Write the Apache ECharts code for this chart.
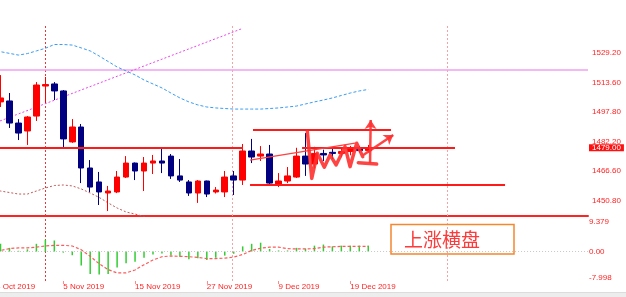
<!DOCTYPE html>
<html><head><meta charset="utf-8">
<script src="https://cdn.jsdelivr.net/npm/echarts@6/dist/echarts.min.js"></script>
<style>html,body{margin:0;padding:0;background:#fff;overflow:hidden}#c{width:626px;height:297px}</style>
</head><body><div id="c"></div>
<script>
// ---- data ----
const dates = ['24 Oct 2019','25 Oct 2019','28 Oct 2019','29 Oct 2019','30 Oct 2019','31 Oct 2019','1 Nov 2019','4 Nov 2019','5 Nov 2019','6 Nov 2019','7 Nov 2019','8 Nov 2019','11 Nov 2019','12 Nov 2019','13 Nov 2019','14 Nov 2019','15 Nov 2019','18 Nov 2019','19 Nov 2019','20 Nov 2019','21 Nov 2019','22 Nov 2019','25 Nov 2019','26 Nov 2019','27 Nov 2019','28 Nov 2019','29 Nov 2019','2 Dec 2019','3 Dec 2019','4 Dec 2019','5 Dec 2019','6 Dec 2019','9 Dec 2019','10 Dec 2019','11 Dec 2019','12 Dec 2019','13 Dec 2019','16 Dec 2019','17 Dec 2019','18 Dec 2019','19 Dec 2019','20 Dec 2019','23 Dec 2019'];
const futureSlots = 24;
const openP  = [1492.0,1503.3,1503.8,1492.1,1487.9,1495.8,1511.7,1512.8,1509.1,1482.1,1490.0,1468.3,1460.9,1455.05,1455.6,1463.5,1470.9,1466.7,1470.9,1472.0,1474.6,1464.1,1460.9,1455.05,1461.4,1455.6,1455.6,1464.1,1461.9,1477.3,1474.6,1475.7,1459.8,1461.4,1463.5,1474.6,1470.4,1476.0,1476.6,1476.0,1477.0,1478.9,1477.5];
const closeP = [1503.0,1505.4,1492.1,1486.8,1495.3,1512.25,1512.5,1509.1,1483.7,1490.0,1468.3,1458.2,1455.6,1456.1,1463.5,1470.9,1466.7,1470.9,1472.0,1470.9,1464.1,1461.9,1455.05,1461.4,1454.5,1456.6,1463.5,1461.9,1477.3,1474.1,1475.7,1460.3,1461.4,1464.1,1474.6,1470.4,1476.0,1475.2,1476.0,1477.0,1478.5,1477.5,1479.0];
const lowP   = [1490.0,1500.6,1489.5,1483.1,1480.5,1493.2,1502.7,1504.3,1479.4,1481.6,1460.3,1455.6,1448.7,1445.5,1455.0,1463.0,1461.9,1456.1,1465.1,1465.6,1462.5,1460.9,1453.5,1449.8,1452.9,1454.8,1452.9,1454.0,1459.3,1470.9,1472.0,1459.3,1458.2,1460.3,1463.0,1464.1,1468.0,1472.0,1473.0,1474.0,1475.0,1476.5,1476.5];
const highP  = [1506.0,1517.5,1508.0,1494.2,1495.8,1513.8,1516.5,1513.8,1509.6,1494.2,1491.6,1472.5,1466.2,1458.8,1466.7,1474.6,1471.2,1474.1,1475.2,1478.35,1475.7,1473.05,1461.9,1461.9,1461.6,1458.2,1466.7,1466.7,1481.0,1483.7,1479.9,1480.5,1465.6,1468.8,1479.0,1486.8,1479.5,1478.0,1478.5,1479.0,1480.0,1480.0,1480.5];
const upperBand = [1530.3,1529.9,1529.0,1528.1,1528.9,1530.3,1531.7,1533.7,1533.7,1533.4,1531.9,1530.3,1527.6,1524.7,1521.8,1519.7,1517.6,1514.9,1512.8,1510.7,1508.0,1505.4,1503.3,1501.7,1500.6,1500.1,1499.8,1499.5,1499.5,1499.5,1499.5,1499.8,1500.1,1500.6,1501.1,1502.2,1503.3,1504.3,1505.4,1506.7,1508.0,1509.1,1509.9];
const lowerBand = [1456.9,1456.1,1455.3,1454.5,1454.5,1456.1,1457.7,1459.0,1459.3,1458.8,1457.2,1455.05,1452.7,1449.8,1447.1,1445.0,1443.9,1442.6,1441.3];
const histo  = [1.5,2.1,1.0,0.2,0.6,2.1,3.2,3.0,-0.3,-1.0,-3.8,-6.1,-6.2,-6.1,-4.3,-3.2,-2.8,-1.7,-0.8,-0.5,-1.0,-1.4,-2.1,-1.8,-2.3,-1.7,-1.1,-0.6,1.4,2.1,2.4,0.7,0.3,0.3,1.0,0.8,1.6,1.9,1.4,1.6,1.6,1.6,1.6];
const signal = [0.2,0.3,0.8,1.0,1.0,1.2,1.5,1.7,1.7,1.5,0.5,-1.3,-3.3,-4.9,-5.8,-5.8,-5.0,-3.6,-2.3,-1.4,-1.2,-1.3,-1.4,-1.6,-1.9,-1.9,-1.8,-1.5,-0.8,0.3,0.9,1.2,1.2,0.8,0.7,0.7,0.8,1.2,1.3,1.4,1.4,1.4,1.4];
const mainTicks = [1529.2,1513.6,1497.8,1482.2,1466.6,1450.8];
const mainMin = 1442.87, mainMax = 1543.5;
const lowerTickValues = [9.379, 0, -7.998];
const lowerTickLabels = ['9.379','0.00','-7.998'];
const lastPrice = 1479.0;
// drawn objects, in (bar index, price)
const pinkLevel = 1520.5;
const trendLine = [[0.94,1493.2],[27.81,1541.9]];
const redLevels = [
  [[-0.5,1479.0],[28.04,1479.0]],
  [[34.62,1479.0],[51.67,1479.0]],
  [[29.15,1488.7],[44.54,1488.7]],
  [[28.82,1459.55],[57.25,1459.55]]
];
const thinSlant = [[28.82,1472.5],[40.52,1481.5]];
const zigzag = [[35.21,1487.5],[35.70,1462.8],[36.32,1476.1],[37.10,1468.7],[37.74,1475.2],[38.41,1469.9],[39.41,1479.6],[39.97,1469.0],[40.71,1481.4],[41.38,1474.3]];
const arrowDiag = [[41.45,1475.2],[44.79,1485.8]];
const arrowUp = [[42.20,1470.8],[42.27,1493.7]];
const arrowBase = [[40.89,1471.1],[42.94,1470.4]];
const separators = [5.96, 26.81, 50.78];
const sepColors = ['#e23a3a','#f3a3a3','#f3a3a3'];
const noteText = '上涨横盘';

// ---- chart ----
const categories = dates.concat(new Array(futureSlots).fill(''));
const N = categories.length;
const red = '#ff2424';
const font = 'Liberation Sans';
const labelInterval = (i, v) => v !== '' && i % 8 === 0;

const sepSeries = [];
separators.forEach((s, k) => {
  sepSeries.push({type:'lines', coordinateSystem:'cartesian2d', xAxisIndex:2, yAxisIndex:0, z:3, silent:true,
    lineStyle:{color:sepColors[k], width:1, type:[2,2], opacity:1}, data:[{coords:[[s,mainMin],[s,mainMax]]}]});
  sepSeries.push({type:'lines', coordinateSystem:'cartesian2d', xAxisIndex:3, yAxisIndex:1, z:3, silent:true,
    lineStyle:{color:sepColors[k], width:1, type:[2,2], opacity:1}, data:[{coords:[[s,lowerTickValues[2]],[s,lowerTickValues[0]]]}]});
});

const chart = echarts.init(document.getElementById('c'));
chart.setOption({
  animation:false,
  backgroundColor:'#ffffff',
  textStyle:{fontFamily:font},
  grid:[
    {left:-12.94, right:38, top:26, height:190, containLabel:false, outerBoundsMode:'none'},
    {left:-12.94, right:38, top:217, height:64, containLabel:false, outerBoundsMode:'none'}
  ],
  xAxis:[
    {type:'category', gridIndex:0, data:categories, axisLine:{show:true, onZero:false, lineStyle:{color:red, width:2}}, axisTick:{show:false}, axisLabel:{show:false}, splitLine:{show:false}},
    {type:'category', gridIndex:1, data:categories, axisLine:{show:false, onZero:false}, axisTick:{show:true, alignWithLabel:true, interval:labelInterval, length:3, lineStyle:{color:'#ff8a8a'}},
      axisLabel:{interval:labelInterval, align:'left', margin:2, fontSize:8, color:red, fontFamily:font}, splitLine:{show:false}},
    {type:'value', gridIndex:0, min:-0.5, max:N-0.5, show:false},
    {type:'value', gridIndex:1, min:-0.5, max:N-0.5, show:false}
  ],
  yAxis:[
    {type:'value', gridIndex:0, position:'right', min:mainMin, max:mainMax,
      axisLine:{show:true, lineStyle:{color:red, width:1}},
      axisTick:{show:true, length:3, customValues:mainTicks, lineStyle:{color:red}},
      axisLabel:{customValues:mainTicks, formatter:v=>v.toFixed(2), fontSize:8, color:red, margin:4, fontFamily:font},
      splitLine:{show:false}},
    {type:'value', gridIndex:1, position:'right', min:lowerTickValues[2], max:lowerTickValues[0],
      axisLine:{show:true, lineStyle:{color:red, width:1}},
      axisTick:{show:false},
      axisLabel:{customValues:lowerTickValues, margin:1, fontSize:8, color:red, fontFamily:font,
        formatter:v=>{
          let k = lowerTickValues.findIndex(t=>Math.abs(t-v)<1e-6);
          const tag = k===0?'t':(k===2?'b':'m');
          return '{'+tag+'|'+lowerTickLabels[k]+'}';
        },
        rich:{t:{fontSize:8,color:red,fontFamily:font,padding:[10,0,0,0]}, m:{fontSize:8,color:red,fontFamily:font}, b:{fontSize:8,color:red,fontFamily:font,padding:[0,0,7,0]}}},
      splitLine:{show:false}}
  ],
  series:[
    ...sepSeries,
    {type:'lines', coordinateSystem:'cartesian2d', xAxisIndex:2, yAxisIndex:0, z:4, silent:true,
      lineStyle:{color:'#f0a0f0', width:1.5, opacity:1}, data:[{coords:[[-0.5,pinkLevel],[N-0.5,pinkLevel]]}]},
    {type:'lines', coordinateSystem:'cartesian2d', xAxisIndex:2, yAxisIndex:0, z:4, silent:true,
      lineStyle:{color:'#ee44ee', width:1, type:[2,2], opacity:1}, data:[{coords:trendLine}]},
    {type:'line', xAxisIndex:0, yAxisIndex:0, data:upperBand, showSymbol:false, z:4, silent:true,
      lineStyle:{color:'#3a9cf2', width:1, type:[3,2]},
      markLine:{silent:true, symbol:['none','none'], lineStyle:{color:'rgba(255,255,255,0)', width:0},
        data:[{yAxis:lastPrice}],
        label:{show:true, position:'end', distance:1, formatter:lastPrice.toFixed(2), color:'#ffffff', backgroundColor:'#ff1010',
          fontSize:8, lineHeight:7, padding:[0,3,0,3], fontFamily:font}}},
    {type:'line', xAxisIndex:0, yAxisIndex:0, data:lowerBand, showSymbol:false, z:4, silent:true,
      lineStyle:{color:'#c05a5a', width:1, type:[2,2]}},
    {type:'candlestick', xAxisIndex:0, yAxisIndex:0, barWidth:6, z:5,
      data:openP.map((o,i)=>[o, closeP[i], lowP[i], highP[i]]),
      itemStyle:{color:'#ff0000', color0:'#000080', borderColor:'#ff0000', borderColor0:'#000080', borderWidth:1}},
    {type:'lines', coordinateSystem:'cartesian2d', xAxisIndex:2, yAxisIndex:0, z:6, silent:true,
      lineStyle:{color:'#ff1a1a', width:2, opacity:1}, data:redLevels.map(c=>({coords:c}))},
    {type:'lines', coordinateSystem:'cartesian2d', xAxisIndex:2, yAxisIndex:0, z:7, silent:true,
      lineStyle:{color:'#ff4040', width:1.2, opacity:1}, data:[{coords:thinSlant}]},
    {type:'lines', coordinateSystem:'cartesian2d', xAxisIndex:2, yAxisIndex:0, z:7, silent:true, polyline:true,
      lineStyle:{color:'#ff3030', width:3.5, opacity:0.9, join:'round', cap:'round'}, data:[{coords:zigzag},{coords:arrowBase}]},
    {type:'lines', coordinateSystem:'cartesian2d', xAxisIndex:2, yAxisIndex:0, z:7, silent:true,
      symbol:['none','arrow'], symbolSize:9,
      lineStyle:{color:'#ff3030', width:2.5, opacity:0.9}, data:[{coords:arrowDiag},{coords:arrowUp}]},
    {type:'bar', xAxisIndex:1, yAxisIndex:1, data:histo, barWidth:1.5, itemStyle:{color:'#32cd32'}, z:4, silent:true,
      markLine:{silent:true, symbol:['none','none'], label:{show:false}, data:[{yAxis:0}],
        lineStyle:{color:'#c8c8c8', width:1, type:[1,2]}}},
    {type:'line', xAxisIndex:1, yAxisIndex:1, data:signal, showSymbol:false, z:5, silent:true,
      lineStyle:{color:'#ff5a5a', width:1.2, type:[3,2]}}
  ],
  graphic:[
    {type:'rect', left:0, top:292, shape:{width:626, height:5}, style:{fill:'#ededed'}, silent:true},
    {type:'line', shape:{x1:0, y1:292.5, x2:626, y2:292.5}, style:{stroke:'#dcdcdc', lineWidth:1}, silent:true},
    {type:'rect', shape:{x:391, y:224.5, width:123, height:29.5}, style:{fill:'none', stroke:'#f5872f', lineWidth:1.5}, silent:true, z:10},
    {type:'text', x:404, y:239.5, style:{text:noteText, fill:'#ff3a3a', fontSize:19, fontFamily:'Noto Sans CJK SC', verticalAlign:'middle', align:'left'}, silent:true, z:10}
  ]
});
</script>
</body></html>
